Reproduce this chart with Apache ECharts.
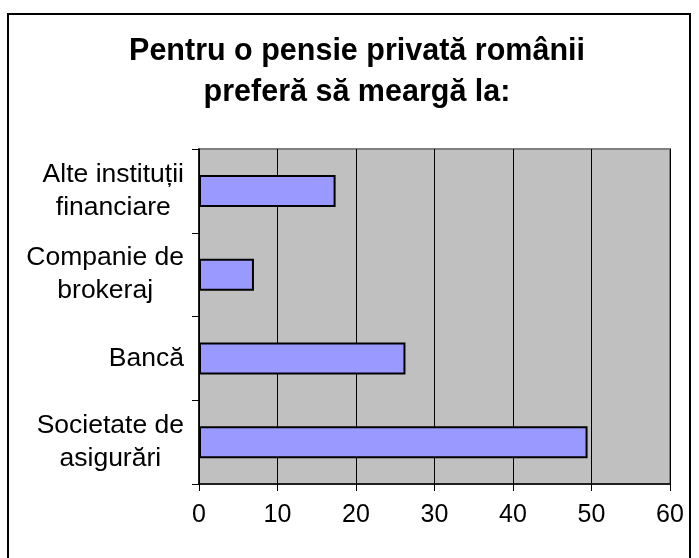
<!DOCTYPE html>
<html>
<head>
<meta charset="utf-8">
<script src="https://cdn.jsdelivr.net/npm/echarts@6/dist/echarts.min.js"></script>
<style>
html,body{margin:0;padding:0;background:#fff;}
#chart{width:699px;height:558px;}
</style>
</head>
<body>
<div id="chart"></div>
<script>
const titleText = 'Pentru o pensie privată românii\npreferă să meargă la:';
const categories = ['Societate de\nasigurări', 'Bancă', 'Companie de\nbrokeraj', 'Alte instituții\nfinanciare'];
const values = [49.5, 26.3, 7.0, 17.4];
const xTicks = [0, 10, 20, 30, 40, 50, 60];

const chart = echarts.init(document.getElementById('chart'), null, {renderer: 'canvas'});
const font = '"Liberation Sans", Arial, sans-serif';
const labelStyle = {fontFamily: font, fontSize: 26.5, lineHeight: 33, color: '#000', align: 'center'};
chart.setOption({
  animation: false,
  backgroundColor: '#ffffff',
  graphic: [{
    type: 'rect',
    shape: {x: 8, y: 14, width: 682, height: 600},
    style: {fill: 'none', stroke: '#000', lineWidth: 2},
    silent: true, z: 0
  }],
  title: {
    text: titleText,
    left: 357,
    textAlign: 'center',
    top: 31,
    padding: 0,
    textStyle: {fontFamily: font, fontWeight: 'bold', fontSize: 30.5, lineHeight: 41, color: '#000'}
  },
  grid: {
    left: 199, top: 149, width: 471, height: 335,
    show: true, backgroundColor: '#C0C0C0', borderColor: '#808080', borderWidth: 2
  },
  xAxis: {
    type: 'value', min: xTicks[0], max: xTicks[xTicks.length - 1], interval: 10,
    axisLine: {show: true, lineStyle: {color: '#000', width: 1.5}},
    axisTick: {show: true, length: 7, lineStyle: {color: '#000'}},
    splitLine: {show: true, lineStyle: {color: '#000', width: 1}},
    axisLabel: {fontFamily: font, fontSize: 25, color: '#000', margin: 19}
  },
  yAxis: {
    type: 'category', data: categories,
    axisLine: {show: true, lineStyle: {color: '#000', width: 1.5}},
    axisTick: {show: true, length: 7, lineStyle: {color: '#000'}},
    axisLabel: {
      fontFamily: font, fontSize: 26.5, lineHeight: 33, color: '#000', margin: 15, align: 'right',
      formatter: function (v) { return v.split('\n').map(function (s) { return '{c|' + s + '}'; }).join('\n'); },
      rich: {c: labelStyle}
    }
  },
  series: [{
    type: 'bar', data: values, barWidth: 32,
    itemStyle: {color: '#9999FF', borderColor: '#000', borderWidth: 2}
  }]
});
</script>
</body>
</html>
